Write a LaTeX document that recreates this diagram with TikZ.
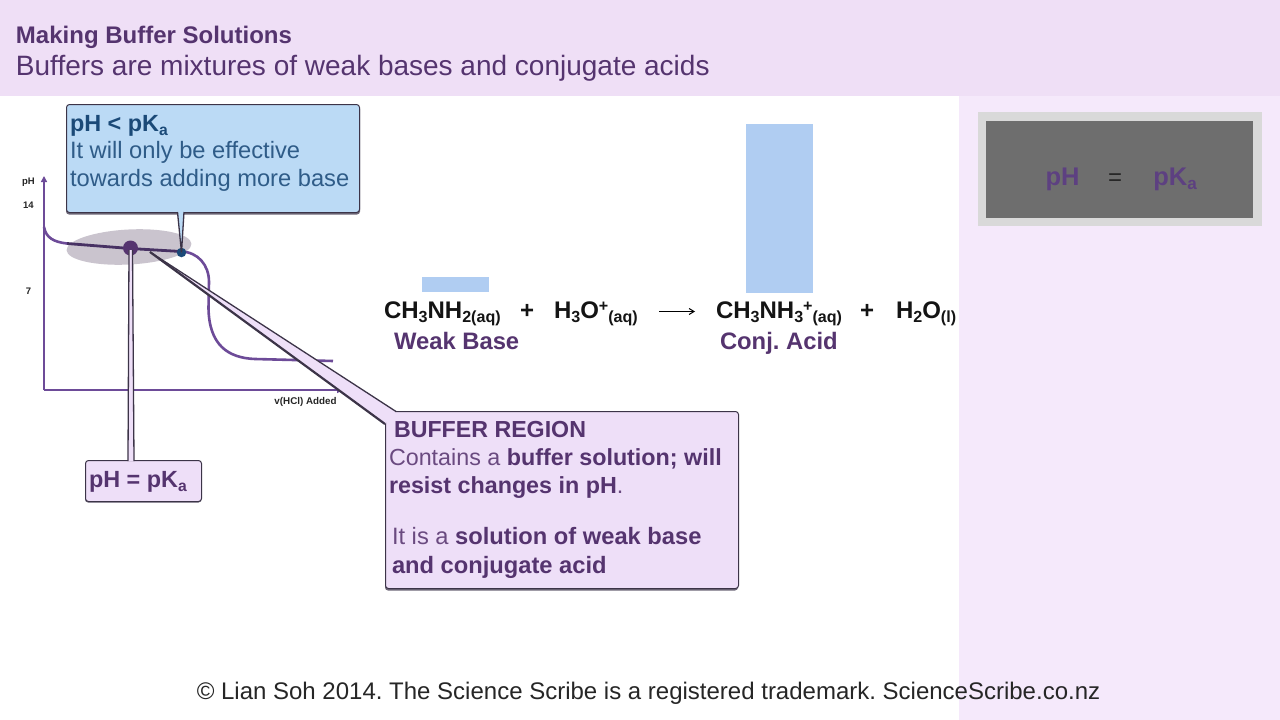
\documentclass[tikz,border=0pt]{standalone}
\usepackage{fontspec}
\usepackage{graphicx}
\setmainfont{Liberation Sans}
\frenchspacing
\usetikzlibrary{arrows.meta}
\definecolor{headbg}{HTML}{EFDFF6}
\definecolor{panelbg}{HTML}{F5E9FB}
\definecolor{lav}{HTML}{EEDFF8}
\definecolor{bluebox}{HTML}{BBDAF5}
\definecolor{barblue}{HTML}{B0CDF2}
\definecolor{purp}{HTML}{55346F}
\definecolor{purplt}{HTML}{6A4A80}
\definecolor{curve}{HTML}{6D4B98}
\definecolor{edge}{HTML}{3C3448}
\definecolor{navy}{HTML}{1B4A78}
\definecolor{navylt}{HTML}{2F5C88}
\definecolor{shade}{HTML}{6E6878}
\definecolor{halo}{HTML}{CAC4CE}
\newcommand\sbx[1]{\raisebox{-.18em}{\scalebox{.67}{#1}}}
\newcommand\spx[1]{\raisebox{.26em}{\scalebox{.67}{#1}}}
\newcommand\fs[1]{\fontsize{#1}{#1}\selectfont}
\tikzset{
  txt/.style={anchor=base west,inner sep=0pt,outer sep=0pt},
  ctr/.style={anchor=base,inner sep=0pt,outer sep=0pt},
  callout/.style={draw=edge,line width=1pt,rounded corners=3pt},
  shadowbox/.style={fill=shade,rounded corners=3pt},
  tailedge/.style={draw=edge,line width=1.3pt},
  axisline/.style={draw=curve,line width=1.5pt},
  axislabel/.style={ctr,font=\bfseries\fs{9.5},text=black!85},
  chem/.style={txt,font=\bfseries\fs{24},text=black!92},
  chemname/.style={txt,font=\bfseries\fs{23.8},text=purp},
  gray text/.style={ctr,font=\bfseries\fs{25.5},text=curve!85!black},
}
\begin{document}
\begin{tikzpicture}[x=1pt,y=-1pt]
\useasboundingbox (0,0) rectangle (1280,720);
\fill[white] (0,0) rectangle (1280,720);
% bands
\fill[panelbg] (959,96) rectangle (1280,720);
\fill[headbg] (0,0) rectangle (1280,96);
\node[txt,font=\bfseries\fs{24},text=purp] (title) at (16,43) {Making Buffer Solutions};
\node[txt,font=\fs{28},text=purp] (subtitle) at (16,75) {Buffers are mixtures of weak bases and conjugate acids};
% graph
\coordinate (origin) at (44,390);
\coordinate (ytip) at (44,176);
\coordinate (xtip) at (343,390);
\draw[axisline,-{Triangle[length=6pt,width=6pt]}] (origin) -- (ytip);
\draw[axisline,-{Triangle[length=6pt,width=6pt]}] (origin) -- (xtip);
\node[axislabel] (lblpH) at (28.5,184) {pH};
\node[axislabel] (lbl14) at (28.5,208) {14};
\node[axislabel] (lbl7) at (28.5,294) {7};
\node[axislabel,font=\bfseries\fs{9.8}] (lblx) at (305.5,404.5) {v(HCl) Added};
\fill[fill=halo,rotate around={3:(129,247)}] (129,247) ellipse [x radius=62.5,y radius=17.5];
\draw[curve,line width=2.6pt] (44,227) .. controls (46,238) and (54,242) .. (67,243.5);
\draw[curve!65!black,line width=2.8pt] (67,243.5) -- (130,248.5) -- (181,251.5);
\draw[curve,line width=2.6pt] (181,251.5) .. controls (198,252) and (209,265) .. (209,282)
  -- (208.5,308) .. controls (209,345) and (228,358) .. (255,359) -- (333,361);
% blue callout
\node[inner sep=0pt,circle,minimum size=9.5pt,fill=navy] (bluedot) at (181.5,252.5) {};
\fill[shadowbox] (66,106) rectangle (360,214.5);
\node[callout,fill=bluebox,minimum width=293pt,minimum height=108pt,inner sep=0pt,anchor=north west] (bluebox) at (66,104) {};
\coordinate (bluetaila) at (177.5,212);
\coordinate (bluetailb) at (184,212);
\fill[bluebox] (bluetaila) -- (bluedot.center) -- (bluetailb) -- cycle;
\draw[tailedge] (bluetaila) -- (bluedot.center) -- (bluetailb);
\node[txt,font=\bfseries\fs{23.4},text=navy] (bluehead) at (70,131) {pH < pK\sbx{a}};
\node[txt,font=\fs{23.7},text=navylt] (blueone) at (70,158) {It will only be effective};
\node[txt,font=\fs{23.7},text=navylt] (bluetwo) at (70,186) {towards adding more base};
% pH = pKa callout
\node[inner sep=0pt,circle,minimum size=15pt,fill=purp] (bigdot) at (130.5,248) {};
\fill[shadowbox] (85,462) rectangle (201.5,502.5);
\node[callout,fill=lav,minimum width=116pt,minimum height=41pt,inner sep=0pt,anchor=north west] (phbox) at (85,460) {};
\coordinate (phtaila) at (128,461);
\coordinate (phtailb) at (134,461);
\coordinate (phtipa) at (129,250);
\coordinate (phtipb) at (132.5,250);
\fill[lav] (phtaila) -- (phtipa) -- (phtipb) -- (phtailb) -- cycle;
\draw[tailedge] (phtaila) -- (phtipa);
\draw[tailedge] (phtailb) -- (phtipb);
\node[txt,font=\bfseries\fs{23.4},text=purp] (phtext) at (89,487) {pH = pK\sbx{a}};
% buffer callout
\fill[shadowbox] (385,413) rectangle (738,590.5);
\node[callout,fill=lav,minimum width=353pt,minimum height=177pt,inner sep=0pt,anchor=north west] (bufbox) at (385,411) {};
\coordinate (buftip) at (150,252);
\coordinate (buftaila) at (385,424);
\coordinate (buftailb) at (396,411.5);
\fill[lav] (buftaila) -- (buftip) -- (buftailb) -- cycle;
\draw[draw=edge,line width=2.2pt] (buftaila) -- (buftip);
\draw[tailedge] (buftip) -- (buftailb);
\node[txt,font=\bfseries\fs{23.2},text=purp] (bufhead) at (394,437) {BUFFER REGION};
\node[txt,font=\fs{23.3},text=purplt] (bufa) at (389,465) {Contains a \textcolor{purp}{\bfseries buffer solution; will}};
\node[txt,font=\fs{23.3},text=purplt] (bufb) at (389,493) {\textcolor{purp}{\bfseries resist changes in pH}.};
\node[txt,font=\fs{23.7},text=purplt] (bufc) at (392,544) {It is a \textcolor{purp}{\bfseries solution of weak base}};
\node[txt,font=\fs{23.7},text=purp] (bufd) at (392,573) {\bfseries and conjugate acid};
% equation
\fill[barblue] (422,277) rectangle (489,292);
\fill[barblue] (746,124) rectangle (813,293);
\node[chem] (eqa) at (384,318) {CH\sbx{3}NH\sbx{2(aq)}};
\node[chem] (eqp) at (520,318) {+};
\node[chem] (eqb) at (554,318) {H\sbx{3}O\spx{+}\sbx{(aq)}};
\coordinate (arrowa) at (659,311.5);
\coordinate (arrowb) at (695,311.5);
\draw[black,line width=1pt,-{Straight Barb[length=5pt,width=6pt]}] (arrowa) -- (arrowb);
\node[chem] (eqc) at (716,318) {CH\sbx{3}NH\sbx{3}\spx{+}\sbx{(aq)}};
\node[chem] (eqq) at (860,318) {+};
\node[chem] (eqd) at (896,318) {H\sbx{2}O\sbx{(l)}};
\node[chemname] (weak) at (394,349) {Weak Base};
\node[chemname] (conj) at (720,349) {Conj. Acid};
% grey box
\fill[black!15] (978,112) rectangle (1262,226);
\fill[black!57] (986,121) rectangle (1253,218);
\node[gray text] (grayph) at (1062.5,185) {pH};
\node[gray text,text=black!85,font=\fs{24}] (grayeq) at (1115,185) {=};
\node[gray text] (graypk) at (1175,185) {pK\sbx{a}};
% footer
\node[ctr,font=\fs{24},text=black!85] (footer) at (648.5,699) {© Lian Soh 2014. The Science Scribe is a registered trademark. ScienceScribe.co.nz};
\end{tikzpicture}
\end{document}
